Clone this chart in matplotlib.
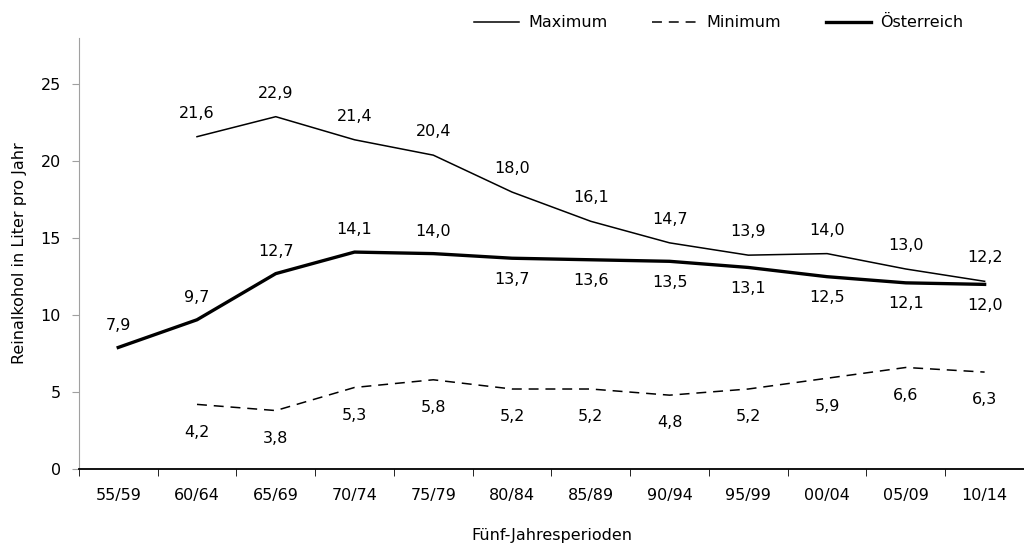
import matplotlib
matplotlib.use("Agg")
import matplotlib.pyplot as plt
import numpy as np

periods = ["55/59", "60/64", "65/69", "70/74", "75/79", "80/84", "85/89",
           "90/94", "95/99", "00/04", "05/09", "10/14"]
maximum = [None, 21.6, 22.9, 21.4, 20.4, 18.0, 16.1, 14.7, 13.9, 14.0, 13.0, 12.2]
minimum = [None, 4.2, 3.8, 5.3, 5.8, 5.2, 5.2, 4.8, 5.2, 5.9, 6.6, 6.3]
austria = [7.9, 9.7, 12.7, 14.1, 14.0, 13.7, 13.6, 13.5, 13.1, 12.5, 12.1, 12.0]

plt.rcParams["font.family"] = ["DejaVu Sans"]
plt.rcParams["font.size"] = 11.5


def fmt(v):
    return f"{v:.1f}".replace(".", ",")


fig = plt.figure(figsize=(10.24, 5.46), dpi=100)
ax = fig.add_axes([0.077, 0.141, 0.923, 0.789])

x = np.arange(len(periods))
mx = np.array([np.nan if v is None else v for v in maximum])
mn = np.array([np.nan if v is None else v for v in minimum])
at = np.array(austria)

ax.plot(x, mx, color="black", lw=1.1, label="Maximum")
ax.plot(x, mn, color="black", lw=1.1, dashes=(6.5, 4.5), label="Minimum")
ax.plot(x, at, color="black", lw=2.4, label="Österreich")

# data labels (above for Maximum, below for Minimum, Austria switches at 80/84)
for i, v in enumerate(mx):
    if np.isnan(v):
        continue
    ax.annotate(fmt(v), (i, v), xytext=(0, 17), textcoords="offset points",
                ha="center", va="center")
for i, v in enumerate(mn):
    if np.isnan(v):
        continue
    ax.annotate(fmt(v), (i, v), xytext=(0, -20), textcoords="offset points",
                ha="center", va="center")
for i, v in enumerate(at):
    off = 16 if i < 5 else -15
    ax.annotate(fmt(v), (i, v), xytext=(0, off), textcoords="offset points",
                ha="center", va="center")

ax.set_xlim(-0.5, len(periods) - 0.5)
ax.set_ylim(0, 28)
ax.set_yticks([0, 5, 10, 15, 20, 25])
ax.set_xticks(x)
ax.set_xticklabels(periods)
ax.set_xticks(np.arange(-0.5, len(periods) - 0.4, 1), minor=True)
ax.tick_params(axis="x", which="major", length=0, pad=14)
ax.tick_params(axis="x", which="minor", length=5, color="black")
ax.tick_params(axis="y", length=5, color="#a0a0a0", pad=8)

for s in ["top", "right"]:
    ax.spines[s].set_visible(False)
ax.spines["left"].set_color("#a0a0a0")
ax.spines["bottom"].set_color("black")
ax.spines["bottom"].set_linewidth(1.3)

ax.set_ylabel("Reinalkohol in Liter pro Jahr", labelpad=10)
ax.set_xlabel("Fünf-Jahresperioden", labelpad=18)

fig.legend(loc="upper right", bbox_to_anchor=(0.955, 0.998), ncol=3,
           frameon=False, handlelength=2.8, handletextpad=0.6,
           columnspacing=2.8)

fig.savefig("out.png", dpi=100)
